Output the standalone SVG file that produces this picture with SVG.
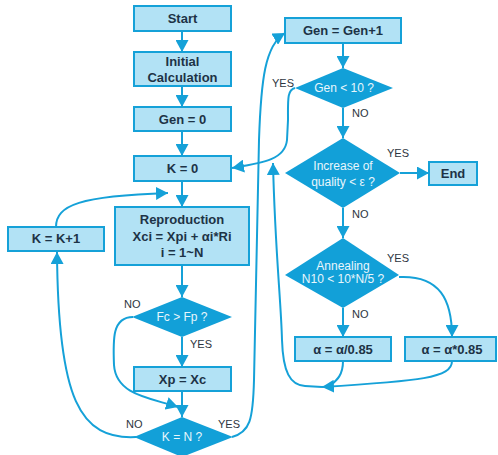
<svg xmlns="http://www.w3.org/2000/svg" width="498" height="455" viewBox="0 0 498 455">
<style>
.box{fill:#b2e2f5;stroke:#15a1d8;stroke-width:2}
.dia{fill:#12a0d8}
.bt{font-family:"Liberation Sans",Arial,sans-serif;font-size:13px;font-weight:bold;fill:#1d3346;text-anchor:middle}
.dt{font-family:"Liberation Sans",Arial,sans-serif;font-size:12px;fill:#e8f6fc;text-anchor:middle}
.lb{font-family:"Liberation Sans",Arial,sans-serif;font-size:11px;fill:#2d3540}
.c{fill:none;stroke:#15a1d8;stroke-width:2;marker-end:url(#ah)}
.cn{fill:none;stroke:#15a1d8;stroke-width:2}
</style>
<defs>
<marker id="ah" markerUnits="userSpaceOnUse" markerWidth="13" markerHeight="13" refX="12" refY="6.5" orient="auto" viewBox="0 0 13 13">
<path d="M0,0 L12,6.5 L0,13 z" fill="#15a1d8"/>
</marker>
</defs>
<g id="connectors">
<path class="c" d="M182,31 V52"/>
<path class="c" d="M182,86 V107"/>
<path class="c" d="M182,131 V156"/>
<path class="c" d="M182,181 V207"/>
<path class="c" d="M182,265 V297"/>
<path class="c" d="M182,337 V367"/>
<path class="c" d="M182,391 V417"/>
<path class="c" d="M133,317 C112,317 113,340 114,365 C116,395 150,398 178,407"/>
<path class="c" d="M136,437 C80,440 58,400 57,252"/>
<path class="c" d="M56,227 C56,205 80,196 168,193"/>
<path class="c" d="M232,437 C250,432 253,420 254,380 L259,140 C261,80 265,45 285,33"/>
<path class="c" d="M343,43 V68"/>
<path class="c" d="M295,88 C287,90 288,100 288,120 L287,140 C285,160 262,163 232,168"/>
<path class="c" d="M343,108 V138"/>
<path class="c" d="M400,173 H429"/>
<path class="c" d="M343,208 V238"/>
<path class="c" d="M399,277 C440,275 452,300 452,337"/>
<path class="c" d="M343,308 V337"/>
<path class="c" d="M452,361 C452,378 420,381 322,387"/>
<path class="cn" d="M343,361 C343,375 337,380 331,385"/>
<path class="c" d="M322,387 L305,386 C290,385 283,372 282,340 C281,300 275,250 273,163"/>
</g>
<g id="start"><rect class="box" x="134" y="6" width="97" height="25"/><text class="bt" x="182.5" y="23">Start</text></g>
<g id="initial"><rect class="box" x="134" y="52" width="97" height="34"/><text class="bt" x="182.5" y="66">Initial</text><text class="bt" x="182.5" y="82">Calculation</text></g>
<g id="gen0"><rect class="box" x="134" y="107" width="97" height="24"/><text class="bt" x="182.5" y="124">Gen = 0</text></g>
<g id="k0"><rect class="box" x="134" y="156" width="97" height="25"/><text class="bt" x="182.5" y="173">K = 0</text></g>
<g id="repro"><rect class="box" x="115" y="207" width="134" height="58"/><text class="bt" x="182" y="224">Reproduction</text><text class="bt" x="182" y="241">Xci = Xpi + αi*Ri</text><text class="bt" x="182" y="257">i = 1~N</text></g>
<g id="kk1"><rect class="box" x="8" y="227" width="96" height="24"/><text class="bt" x="56" y="243">K = K+1</text></g>
<g id="fcfp"><path class="dia" d="M182,297 L232,317 L182,337 L132,317 z"/><text class="dt" x="182" y="321">Fc &gt; Fp ?</text></g>
<g id="xpxc"><rect class="box" x="134" y="367" width="97" height="24"/><text class="bt" x="182.5" y="384">Xp = Xc</text></g>
<g id="kn"><path class="dia" d="M182,417 L233,437 L182,457 L134,437 z"/><text class="dt" x="182" y="441">K = N ?</text></g>
<g id="genp1"><rect class="box" x="285" y="18" width="116" height="25"/><text class="bt" x="343" y="35">Gen = Gen+1</text></g>
<g id="gen10"><path class="dia" d="M343,68 L393,88 L343,108 L295,88 z"/><text class="dt" x="344" y="92">Gen &lt; 10 ?</text></g>
<g id="incq"><path class="dia" d="M343,138 L400,173 L343,208 L285,173 z"/><text class="dt" x="343" y="170">Increase of</text><text class="dt" x="343" y="186">quality &lt; ε ?</text></g>
<g id="end"><rect class="box" x="429" y="162" width="48" height="23"/><text class="bt" x="453" y="178">End</text></g>
<g id="anneal"><path class="dia" d="M343,238 L399,275 L343,308 L285,275 z"/><text class="dt" x="343" y="270">Annealing</text><text class="dt" x="343" y="283">N10 &lt; 10*N/5 ?</text></g>
<g id="adiv"><rect class="box" x="295" y="337" width="96" height="24"/><text class="bt" x="343" y="354">α = α/0.85</text></g>
<g id="amul"><rect class="box" x="405" y="337" width="91" height="24"/><text class="bt" x="452" y="354">α = α*0.85</text></g>
<g id="labels">
<text class="lb" x="272" y="87">YES</text>
<text class="lb" x="352" y="117">NO</text>
<text class="lb" x="387" y="157">YES</text>
<text class="lb" x="352" y="218">NO</text>
<text class="lb" x="387" y="262">YES</text>
<text class="lb" x="352" y="318">NO</text>
<text class="lb" x="124" y="308">NO</text>
<text class="lb" x="190" y="348">YES</text>
<text class="lb" x="126" y="428">NO</text>
<text class="lb" x="218" y="428">YES</text>
</g>
</svg>
